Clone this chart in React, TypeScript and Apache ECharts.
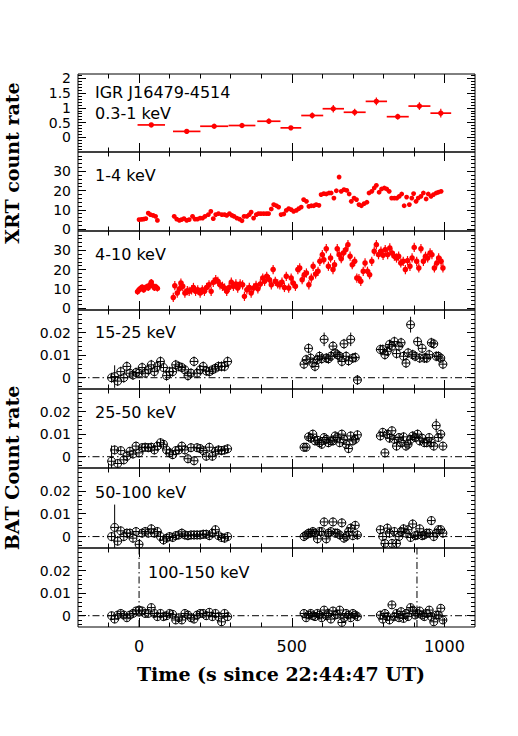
import React, { useEffect, useRef } from 'react';
import * as echarts from 'echarts';

// ---------------- data ----------------
const X_MIN = -200;
const X_MAX = 1100;
const xMajorTicks = [0, 500, 1000];

// Panel 1: XRT 0.3-1 keV
const softT = [40, 156, 246, 337, 425, 497, 567, 636, 706, 777, 847, 918, 988];
const softXErr = [45, 45, 46, 44, 38, 34, 36, 35, 36, 35, 36, 36, 34];
const softY = [0.42, 0.2, 0.375, 0.4, 0.545, 0.32, 0.74, 0.97, 0.85, 1.22, 0.7, 1.06, 0.82];
const softYErr = [0.05, 0.05, 0.06, 0.06, 0.09, 0.06, 0.1, 0.13, 0.12, 0.13, 0.1, 0.13, 0.15];

// Panel 2: XRT 1-4 keV
const midT1 = [0, 8, 15, 22, 30, 37, 46, 54, 60];
const midY1 = [4.9, 5.0, 5.2, 5.4, 8.3, 7.5, 7.1, 6.6, 4.5];
const midT2 = [115, 123, 132, 139, 147, 156, 164, 175, 183, 191, 200, 208, 216, 227, 235, 243, 251, 260, 271, 280, 287, 296, 304, 311, 320, 329, 337, 344, 353, 361, 367, 375, 384, 391, 399, 408, 417, 424, 433, 441, 450, 457, 465, 474, 482, 490, 498, 506, 515, 523, 531, 539, 548, 556, 564, 572, 580, 589, 596, 605, 613, 622, 629, 638, 646, 655, 662, 671, 680, 688, 695, 704, 712, 720, 728, 737, 746, 753, 762, 770, 777, 786, 794, 803, 811, 819, 827, 836, 844, 852, 860, 868, 876, 885, 893, 899, 907, 914, 923, 931, 940, 947, 956, 964, 973, 980, 989];
const midY2 = [6.6, 5.2, 4.5, 4.9, 5.4, 4.5, 4.9, 6.6, 5.2, 5.2, 5.7, 5.7, 6.6, 7.5, 9.2, 5.4, 7.5, 8.0, 7.5, 7.5, 7.1, 8.0, 7.1, 6.6, 5.7, 5.2, 4.3, 6.6, 6.6, 7.5, 8.8, 5.7, 7.5, 8.0, 8.0, 8.0, 8.0, 8.0, 10.4, 12.7, 12.1, 11.4, 7.5, 7.8, 9.7, 10.6, 10.1, 9.2, 9.7, 10.6, 11.4, 15.3, 14.4, 11.8, 12.1, 12.1, 12.7, 12.3, 17.9, 18.4, 18.2, 18.7, 18.7, 16.1, 19.9, 27, 19.6, 20.5, 20.1, 18.2, 14.4, 16.1, 15.3, 12.7, 12.1, 13.2, 13.9, 18.7, 19.6, 21.3, 22.7, 19.1, 20.8, 21.3, 20.8, 19.6, 16.1, 16.1, 16.1, 17, 18.2, 12.1, 16.6, 12.7, 16.1, 18.4, 14.4, 16.1, 17, 18.7, 15.6, 18.2, 17, 17.9, 18.7, 19.1, 19.6];
const midErr = 0.8;

// Panel 3: XRT 4-10 keV
const hardT1 = [-5, 0, 5, 10, 15, 20, 25, 30, 35, 40, 45, 50, 55, 60];
const hardY1 = [8.5, 9.5, 10.2, 10.8, 9.5, 10.5, 11.0, 10.5, 12.0, 13.5, 11.5, 10.5, 11.0, 10.2];
const hardT2 = [112, 117, 125, 132, 137, 143, 150, 158, 164, 172, 178, 185, 192, 200, 207, 214, 221, 229, 236, 243, 251, 258, 265, 273, 280, 287, 295, 302, 309, 317, 323, 331, 339, 345, 353, 361, 367, 375, 383, 389, 397, 405, 411, 418, 427, 433, 439, 446, 454, 461, 468, 476, 482, 490, 498, 504, 512, 520, 526, 534, 541, 548, 556, 564, 570, 578, 586, 592, 600, 605, 613, 620, 627, 635, 640, 649, 655, 662, 669, 677, 684, 691, 698, 706, 713, 720, 726, 734, 740, 748, 755, 762, 770, 777, 784, 792, 799, 806, 814, 821, 828, 836, 843, 850, 857, 865, 872, 879, 887, 894, 901, 909, 916, 923, 931, 938, 945, 953, 959, 967, 975, 981, 989, 995];
const hardY2 = [5.5, 11.6, 7.8, 10, 13, 11.3, 7.8, 9, 8.7, 9.5, 10.7, 8.7, 9.5, 7.8, 9.5, 8.7, 10.7, 12.1, 8.7, 13.3, 14.7, 13.9, 12.1, 11.3, 10.4, 8.7, 10.7, 13.5, 11.3, 12.5, 10.4, 12.5, 12.1, 6.1, 9.5, 10.7, 7.8, 10.4, 11.8, 10, 12.5, 15.6, 13.9, 16.5, 14.7, 12.1, 20, 13.9, 12.5, 12.1, 13.5, 10.7, 16.5, 10.4, 15.6, 13, 11.3, 20, 20.8, 14.7, 17.3, 18.2, 12.1, 15.6, 21.7, 17.7, 19.1, 24.3, 27.7, 25.1, 30.8, 21.7, 26, 20, 22.5, 30.8, 27.7, 25.6, 28.6, 30.3, 32.9, 26.9, 22.5, 24.3, 15.6, 15.3, 13.9, 19.1, 23.4, 19.1, 17.3, 24.3, 29.5, 32.9, 27.7, 29.5, 27.4, 30.3, 27.7, 31.2, 28.6, 26.9, 26, 26.9, 23.4, 24.3, 20, 24.6, 21.7, 26, 31.5, 24.3, 20.8, 30.8, 24.3, 26.9, 26, 28.6, 27.7, 20.8, 23.4, 26, 24.3, 20.8];
const hardErr1 = 1.6;
const hardErr2 = 2.4;

// BAT time bins
const batT1 = [-90, -80, -70, -60, -50, -40, -30, -20, -10, 0, 10, 20, 30, 40, 50, 60, 70, 80, 90, 100, 110, 120, 130, 140, 150, 160, 170, 180, 190, 200, 210, 220, 230, 240, 250, 260, 270, 280, 290];
const batT2 = [540, 547, 555, 562, 569, 576, 584, 591, 598, 606, 613, 620, 628, 635, 642, 649, 657, 664, 671, 678, 686, 693, 700, 708, 715];
const batT3 = [790, 798, 805, 813, 820, 828, 836, 843, 851, 858, 866, 874, 881, 889, 896, 904, 912, 919, 927, 934, 942, 950, 957, 965, 973, 980, 988, 995];

// Panel 4: BAT 15-25 keV
const b15Y1 = [0, 0.0005, -0.0015, 0.0027, 0, 0.005, 0.002, 0.0012, 0.0023, 0.002, 0.0045, 0.002, 0.0035, 0.0057, 0.0027, 0.005, 0.0072, 0.0045, 0.0009, 0.0027, 0.0027, 0.0057, 0.005, 0.0045, 0.0035, 0.0009, 0.002, 0.0072, 0.002, 0.0035, 0.005, 0.003, 0.0027, 0.0035, 0.0042, 0.005, 0.005, 0.005, 0.0072];
const b15Y2 = [0.006, 0.008, 0.013, 0.0087, 0.0065, 0.005, 0.008, 0.0095, 0.0084, 0.017, 0.0087, 0.0084, 0.0095, 0.014, 0.011, 0.0102, 0.0095, 0.0072, 0.015, 0.0095, 0.0075, 0.017, 0.0087, 0.009, -0.001];
const b15Y3 = [0.0125, 0.0125, 0.0102, 0.0117, 0.0147, 0.014, 0.016, 0.0107, 0.014, 0.0155, 0.0095, 0.0065, 0.011, 0.0235, 0.0102, 0.0095, 0.016, 0.0087, 0.013, 0.0087, 0.0087, 0.0102, 0.0155, 0.015, 0.0095, 0.0095, 0.0087, 0.006];
// Panel 5: BAT 25-50 keV
const b25Y1 = [-0.002, 0.003, -0.003, 0.0027, -0.0014, 0.0002, 0.0024, 0.0012, 0.0047, 0.0017, 0.004, 0.0042, 0.004, 0.0042, 0.003, 0.0047, 0.0062, 0.0055, 0.003, 0.0017, 0.0009, 0.0027, 0.003, 0.0047, 0.003, -0.0009, 0.004, -0.0018, 0.004, 0.0036, 0.0027, 0.0002, 0.0042, 0.0002, 0.0024, 0.003, 0.0027, 0.003, 0.0035];
const b25Y2 = [0.0042, 0.0042, 0.0088, 0.0082, 0.01, 0.007, 0.0073, 0.0062, 0.0055, 0.0085, 0.0077, 0.0062, 0.007, 0.007, 0.0092, 0.0085, 0.0062, 0.01, 0.0077, 0.0055, 0.0036, 0.0092, 0.007, 0.0077, 0.0097];
const b25Y3 = [0.0092, 0.0108, 0.0017, 0.01, 0.0082, 0.0115, 0.0077, 0.0047, 0.0085, 0.0062, 0.0088, 0.0047, 0.0055, 0.0077, 0.0092, 0.0085, 0.01, 0.007, 0.0082, 0.0062, 0.0062, 0.0085, 0.0062, 0.0047, 0.0138, 0.0085, 0.01, 0.0047];
// Panel 6: BAT 50-100 keV
const b50Y1 = [0, 0.004, -0.002, 0.0025, 0, 0.0015, 0.0015, -0.0007, 0.0022, -0.0034, 0.0015, 0.0022, 0.0015, 0.0034, 0.0015, 0.0022, 0, -0.0015, -0.0007, 0, -0.0004, 0.0004, 0.0007, 0.0015, 0.0007, 0.0004, 0.0007, 0.0007, 0.0007, 0.0007, 0.001, 0.001, 0.0004, 0.0015, 0.003, 0.0004, -0.0004, -0.0007, 0];
const b50Y2 = [0, 0.0007, 0.0015, 0.0015, 0.0022, 0.0015, -0.001, 0.0022, 0.0022, 0.0064, -0.001, 0.0015, 0.0022, 0.0064, 0.0015, 0.0015, 0.0007, 0.006, -0.0007, 0, 0.0022, 0.0037, 0.0004, 0.0049, 0.0007];
const b50Y3 = [0.003, 0, -0.003, 0.0037, 0.0015, -0.003, 0.0022, -0.003, 0, 0.0022, 0.0034, 0.0015, 0.003, -0.0004, 0.0055, 0.0004, 0.0007, 0.0034, 0.0004, 0.0007, 0.0015, 0.0015, 0.007, 0, 0.0015, 0.003, 0.003, 0.0015];
// Panel 7: BAT 100-150 keV
const b100Y1 = [0, -0.0015, 0.0003, 0.001, 0.0003, -0.0009, 0.0003, 0.001, 0.0021, 0.0025, 0.0021, 0.001, 0.001, 0.0036, 0.001, -0.0004, 0.001, -0.0004, 0, 0.001, 0.0006, -0.0019, -0.0009, -0.0019, 0.001, 0.0003, -0.0009, -0.0015, 0.0003, 0.001, 0.001, 0, 0.0015, -0.0004, 0.001, -0.0004, -0.0027, 0.001, -0.0004];
const b100Y2 = [0.001, -0.0009, 0.0003, 0.001, 0, -0.0004, 0.001, 0.0003, -0.0009, 0.0025, 0, 0.001, -0.0015, 0.0021, 0.0003, 0.0006, 0.0025, -0.003, -0.0009, 0.001, 0.0003, -0.0009, 0.001, 0.0003, -0.0004];
const b100Y3 = [0.0003, -0.0015, 0.001, -0.0004, -0.0019, 0.0048, -0.0004, 0.001, -0.0009, 0.0018, -0.0012, 0.001, -0.0004, 0.0036, 0.0025, 0.0003, 0.001, 0.0021, 0.0003, -0.0004, 0.001, 0.0025, -0.0004, -0.0027, 0.0003, 0.0003, 0.0033, -0.0019];

const batTypicalErr = [0.0022, 0.002, 0.002, 0.0018];
const batLargeErr: Record<number, number>[] = [
  { [-80]: 0.005, 606: 0.003, 693: 0.003, 889: 0.0035 },
  { [-90]: 0.007, 973: 0.003 },
  { [-80]: 0.01 },
  {},
];
const batBands = ['15-25 keV', '25-50 keV', '50-100 keV', '100-150 keV'];
const xrtBands = ['0.3-1 keV', '1-4 keV', '4-10 keV'];
const sourceName = 'IGR J16479-4514';
const verticalMarks = [0, 910];

// y axis tick labels
const softTicks = [0, 0.5, 1, 1.5, 2];
const xrtTicks = [0, 10, 20, 30];
const batTicks = [0, 0.01, 0.02];

// ---------------- layout ----------------
const PANEL_TOPS = [74, 152, 231, 310, 389, 468, 548];
const PANEL_BOTTOM = 627;
const GRID_LEFT = 78;
const GRID_RIGHT = 43;
const W = 518;
const H = 736;
const TICK_FONT = '"DejaVu Sans", sans-serif';
const TITLE_FONT = '"DejaVu Serif", serif';

function steps(from: number, to: number, step: number): number[] {
  const out: number[] = [];
  const n = Math.round((to - from) / step);
  for (let i = 0; i <= n; i++) out.push(parseFloat((from + i * step).toFixed(6)));
  return out;
}

const xMinor = steps(-100, 1000, 100);

const panelCfg = [
  { min: -0.5, max: 2.15, major: softTicks, minor: steps(-0.4, 2.1, 0.1) },
  { min: -1, max: 40, major: xrtTicks, minor: steps(0, 38, 2) },
  { min: -1, max: 40, major: xrtTicks, minor: steps(0, 38, 2) },
  { min: -0.005, max: 0.03, major: batTicks, minor: steps(-0.004, 0.028, 0.002) },
  { min: -0.005, max: 0.03, major: batTicks, minor: steps(-0.004, 0.028, 0.002) },
  { min: -0.005, max: 0.03, major: batTicks, minor: steps(-0.004, 0.028, 0.002) },
  { min: -0.005, max: 0.03, major: batTicks, minor: steps(-0.004, 0.028, 0.002) },
];

function zipData(t: number[], y: number[], ey: number | number[], ex: number | number[], large?: Record<number, number>) {
  return t.map((tt, i) => {
    let e = Array.isArray(ey) ? ey[i] : ey;
    if (large && large[tt] !== undefined) e = large[tt];
    return [tt, y[i], e, Array.isArray(ex) ? ex[i] : ex];
  });
}

const renderXrt = (r: number, hw: number) => (params: any, api: any) => {
  const x = api.value(0), y = api.value(1), ey = api.value(2), ex = api.value(3);
  const c = api.coord([x, y]);
  const t = api.coord([x, y + ey]);
  const b = api.coord([x, y - ey]);
  const ch: any[] = [
    { type: 'line', shape: { x1: c[0], y1: t[1], x2: c[0], y2: b[1] }, style: { stroke: '#ff0000', lineWidth: 1.2 } },
  ];
  if (ex > 0) {
    const l = api.coord([x - ex, y]);
    const rr = api.coord([x + ex, y]);
    ch.push({ type: 'line', shape: { x1: l[0], y1: c[1], x2: rr[0], y2: c[1] }, style: { stroke: '#ff0000', lineWidth: hw } });
  }
  ch.push({ type: 'circle', shape: { cx: c[0], cy: c[1], r }, style: { fill: '#ff0000' } });
  return { type: 'group', children: ch };
};

const renderBat = (r: number) => (params: any, api: any) => {
  const x = api.value(0), y = api.value(1), ey = api.value(2);
  const c = api.coord([x, y]);
  const t = api.coord([x, y + ey]);
  const b = api.coord([x, y - ey]);
  return {
    type: 'group',
    children: [
      { type: 'line', shape: { x1: c[0], y1: t[1], x2: c[0], y2: b[1] }, style: { stroke: '#000', lineWidth: 1 } },
      { type: 'line', shape: { x1: c[0] - r, y1: c[1], x2: c[0] + r, y2: c[1] }, style: { stroke: '#000', lineWidth: 1 } },
      { type: 'circle', shape: { cx: c[0], cy: c[1], r }, style: { fill: 'none', stroke: '#000', lineWidth: 1 } },
    ],
  };
};

function buildOption() {
  const grids: any[] = [];
  const xAxes: any[] = [];
  const yAxes: any[] = [];
  const series: any[] = [];
  const tickLine = { color: '#000', width: 1 };

  PANEL_TOPS.forEach((top, i) => {
    const bottomEdge = i < PANEL_TOPS.length - 1 ? PANEL_TOPS[i + 1] : PANEL_BOTTOM;
    grids.push({
      left: GRID_LEFT, right: GRID_RIGHT, top, height: bottomEdge - top,
      show: true, borderColor: '#000', borderWidth: 1, backgroundColor: 'transparent',
      containLabel: false, outerBoundsMode: 'none',
    });
    const isLast = i === PANEL_TOPS.length - 1;
    const xb = { type: 'value', gridIndex: i, min: X_MIN, max: X_MAX, axisLine: { show: false, onZero: false }, splitLine: { show: false } };
    xAxes.push(
      { ...xb, position: 'bottom', axisTick: { show: true, inside: true, length: 9, customValues: xMajorTicks, lineStyle: tickLine },
        axisLabel: isLast ? { show: true, customValues: xMajorTicks, formatter: (v: number) => String(v), fontSize: 16, margin: 11, color: '#000', fontFamily: TICK_FONT } : { show: false } },
      { ...xb, position: 'bottom', axisTick: { show: true, inside: true, length: 4.5, customValues: xMinor, lineStyle: tickLine }, axisLabel: { show: false } },
      { ...xb, position: 'top', axisTick: { show: true, inside: true, length: 9, customValues: xMajorTicks, lineStyle: tickLine }, axisLabel: { show: false } },
      { ...xb, position: 'top', axisTick: { show: true, inside: true, length: 4.5, customValues: xMinor, lineStyle: tickLine }, axisLabel: { show: false } },
    );
    const cfg = panelCfg[i];
    const yb = { type: 'value', gridIndex: i, min: cfg.min, max: cfg.max, axisLine: { show: false, onZero: false }, splitLine: { show: false } };
    yAxes.push(
      { ...yb, position: 'left', axisTick: { show: true, inside: true, length: 8, customValues: cfg.major, lineStyle: tickLine },
        axisLabel: { show: true, customValues: cfg.major, formatter: (v: number) => String(v), fontSize: 14, margin: 7, color: '#000', fontFamily: TICK_FONT } },
      { ...yb, position: 'left', axisTick: { show: true, inside: true, length: 4, customValues: cfg.minor, lineStyle: tickLine }, axisLabel: { show: false } },
      { ...yb, position: 'right', axisTick: { show: true, inside: true, length: 8, customValues: cfg.major, lineStyle: tickLine }, axisLabel: { show: false } },
      { ...yb, position: 'right', axisTick: { show: true, inside: true, length: 4, customValues: cfg.minor, lineStyle: tickLine }, axisLabel: { show: false } },
    );
  });

  const ax = (i: number) => ({ xAxisIndex: 4 * i, yAxisIndex: 4 * i });

  series.push({ type: 'custom', ...ax(0), clip: true, renderItem: renderXrt(2.7, 1.7), encode: { x: 0, y: 1 },
    data: zipData(softT, softY, softYErr, softXErr) });
  series.push({ type: 'custom', ...ax(1), clip: true, renderItem: renderXrt(2.4, 1), encode: { x: 0, y: 1 },
    data: [...zipData(midT1, midY1, midErr, 0), ...zipData(midT2, midY2, midErr, 0)] });
  series.push({ type: 'custom', ...ax(2), clip: true, renderItem: renderXrt(2.8, 1), encode: { x: 0, y: 1 },
    data: [...zipData(hardT1, hardY1, hardErr1, 0), ...zipData(hardT2, hardY2, hardErr2, 0)] });

  const bat = [
    [b15Y1, b15Y2, b15Y3],
    [b25Y1, b25Y2, b25Y3],
    [b50Y1, b50Y2, b50Y3],
    [b100Y1, b100Y2, b100Y3],
  ];
  bat.forEach((segs, k) => {
    const i = k + 3;
    const e = batTypicalErr[k];
    const L = batLargeErr[k];
    series.push({
      type: 'line', ...ax(i), symbol: 'none', silent: true,
      lineStyle: { color: '#000', width: 1, type: [7, 3, 1.5, 3] },
      data: [[X_MIN, 0], [X_MAX, 0]],
    });
    series.push({ type: 'custom', ...ax(i), clip: true, renderItem: renderBat(4), encode: { x: 0, y: 1 },
      data: [...zipData(batT1, segs[0], e, 0, L), ...zipData(batT2, segs[1], e, 0, L), ...zipData(batT3, segs[2], e, 0, L)] });
  });
  verticalMarks.forEach((vx) => {
    series.push({
      type: 'line', ...ax(6), symbol: 'none', silent: true,
      lineStyle: { color: '#000', width: 1, type: [7, 3, 1.5, 3] },
      data: [[vx, panelCfg[6].min], [vx, panelCfg[6].max]],
    });
  });

  const labelFont = `16px ${TICK_FONT}`;
  const titleFont = `bold 19px ${TITLE_FONT}`;
  const graphic: any[] = [
    { type: 'text', x: 95, y: 92, style: { text: sourceName, font: labelFont, fill: '#000', textVerticalAlign: 'middle' } },
    { type: 'text', x: 95, y: 113, style: { text: xrtBands[0], font: labelFont, fill: '#000', textVerticalAlign: 'middle' } },
    { type: 'text', x: 95, y: 175, style: { text: xrtBands[1], font: labelFont, fill: '#000', textVerticalAlign: 'middle' } },
    { type: 'text', x: 95, y: 254, style: { text: xrtBands[2], font: labelFont, fill: '#000', textVerticalAlign: 'middle' } },
    { type: 'text', x: 95, y: 332, style: { text: batBands[0], font: labelFont, fill: '#000', textVerticalAlign: 'middle' } },
    { type: 'text', x: 95, y: 412, style: { text: batBands[1], font: labelFont, fill: '#000', textVerticalAlign: 'middle' } },
    { type: 'text', x: 95, y: 492, style: { text: batBands[2], font: labelFont, fill: '#000', textVerticalAlign: 'middle' } },
    { type: 'text', x: 148, y: 572, style: { text: batBands[3], font: labelFont, fill: '#000', textVerticalAlign: 'middle' } },
    { type: 'text', x: 12, y: 163, rotation: Math.PI / 2, style: { text: 'XRT count rate', font: titleFont, fill: '#000', textAlign: 'center', textVerticalAlign: 'middle' } },
    { type: 'text', x: 12, y: 468, rotation: Math.PI / 2, style: { text: 'BAT Count rate', font: titleFont, fill: '#000', textAlign: 'center', textVerticalAlign: 'middle' } },
    { type: 'text', x: 281, y: 674, style: { text: 'Time (s since 22:44:47 UT)', font: titleFont, fill: '#000', textAlign: 'center', textVerticalAlign: 'middle' } },
  ];

  return {
    animation: false,
    backgroundColor: '#fff',
    textStyle: { fontFamily: TICK_FONT },
    grid: grids,
    xAxis: xAxes,
    yAxis: yAxes,
    series,
    graphic,
  };
}

export default function App() {
  const ref = useRef<HTMLDivElement>(null);
  useEffect(() => {
    if (!ref.current) return;
    const chart = echarts.init(ref.current, undefined, { renderer: 'svg' });
    chart.setOption(buildOption() as any);
    return () => chart.dispose();
  }, []);
  return <div ref={ref} style={{ position: 'absolute', left: 0, top: 0, width: W, height: H }} />;
}
